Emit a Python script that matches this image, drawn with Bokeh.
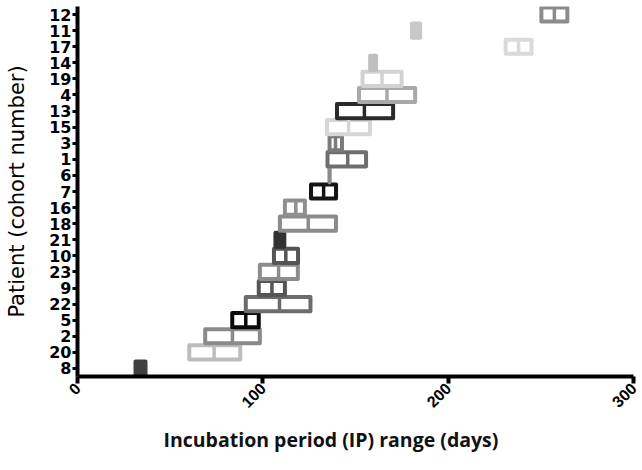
import math
from bokeh.plotting import figure
from bokeh.models import FactorRange, Range1d, Title, ColumnDataSource, FixedTicker
from bokeh.embed import file_html
from bokeh.resources import INLINE

# Patients, bottom to top
patients = ["8", "20", "2", "5", "22", "9", "23", "10", "21", "18", "16", "7",
            "6", "1", "3", "15", "13", "4", "19", "14", "17", "11", "12"]
ip_min = [31.3, 60.3, 68.9, 83.5, 90.8, 97.8, 98.4, 106.0, 106.8, 109.2, 111.9, 126.0,
          136.0, 134.9, 136.0, 134.6, 140.0, 151.9, 153.8, 157.9, 231.0, 180.5, 250.3]
ip_mid = [34.0, 73.7, 83.6, 90.8, 109.0, 104.9, 108.5, 112.4, 109.2, 124.5, 117.8, 132.8,
          136.0, 145.8, 139.2, 146.3, 154.8, 167.0, 164.3, 159.5, 238.0, 182.7, 257.3]
ip_max = [36.7, 87.8, 98.4, 97.8, 125.7, 111.9, 118.9, 119.0, 111.6, 139.5, 122.7, 139.5,
          136.0, 155.7, 142.7, 157.8, 170.3, 182.2, 174.9, 161.1, 245.0, 184.9, 264.3]
x_ticks = [0, 100, 200, 300]

# styles
line_colors = ["#404040", "#bcbcbc", "#8a8a8a", "#0a0a0a", "#6c6c6c", "#555555", "#8c8c8c",
               "#555555", "#333333", "#8c8c8c", "#8f8f8f", "#141414", "#8a8a8a", "#6e6e6e",
               "#7a7a7a", "#d6d6d6", "#2a2a2a", "#a9a9a9", "#d2d2d2", "#bebebe", "#dadada",
               "#c8c8c8", "#8c8c8c"]
filled = {"8", "21", "14", "11"}
fill_colors = [c if pt in filled else "white" for pt, c in zip(patients, line_colors)]

src = ColumnDataSource(dict(patient=patients, lo=ip_min, mid=ip_mid, hi=ip_max,
                            lc=line_colors, fc=fill_colors))

p = figure(width=640, height=465, y_range=FactorRange(*patients), x_range=Range1d(0, 300),
           output_backend="svg", toolbar_location=None,
           min_border_left=77, min_border_right=7, min_border_top=6, min_border_bottom=89)
p.outline_line_color = None
p.grid.grid_line_color = None
p.background_fill_color = "white"

p.hbar(y="patient", left="lo", right="hi", height=0.88, source=src,
       fill_color="fc", line_color="lc", line_width=4, line_join="round")
p.rect(x="mid", y="patient", width=3.5, width_units="screen", height=0.88, source=src,
       fill_color="lc", line_color=None)

# axes
for ax in (p.xaxis, p.yaxis):
    ax.axis_line_width = 4
    ax.axis_line_color = "black"
    ax.major_tick_line_color = "black"
    ax.minor_tick_line_color = None
    ax.major_tick_in = 0
    ax.major_label_text_color = "black"
    ax.major_label_text_font_style = "bold"

p.xaxis.ticker = FixedTicker(ticks=x_ticks)
p.xaxis.major_tick_line_width = 4
p.xaxis.major_tick_out = 7
p.xaxis.major_label_orientation = math.pi / 4
p.xaxis.major_label_standoff = 2
p.xaxis.major_label_text_font = "Liberation Sans"
p.xaxis.major_label_text_font_size = "16px"

p.yaxis.major_tick_line_width = 3
p.yaxis.major_tick_out = 5
p.yaxis.major_label_standoff = 1
p.yaxis.major_label_text_font = "DejaVu Sans"
p.yaxis.major_label_text_font_size = "16px"
p.yaxis.axis_label = "Patient (cohort number)"
p.yaxis.axis_label_text_font = "DejaVu Sans"
p.yaxis.axis_label_text_font_style = "normal"
p.yaxis.axis_label_text_font_size = "21px"
p.yaxis.axis_label_text_color = "black"
p.yaxis.axis_label_standoff = 17

p.add_layout(Title(text="Incubation period (IP) range (days)", align="left", offset=86,
                   standoff=17, text_font="Open Sans", text_font_size="19.5px",
                   text_font_style="bold", text_color="#111111"), "below")

open("out.html", "w").write(file_html(p, INLINE))
